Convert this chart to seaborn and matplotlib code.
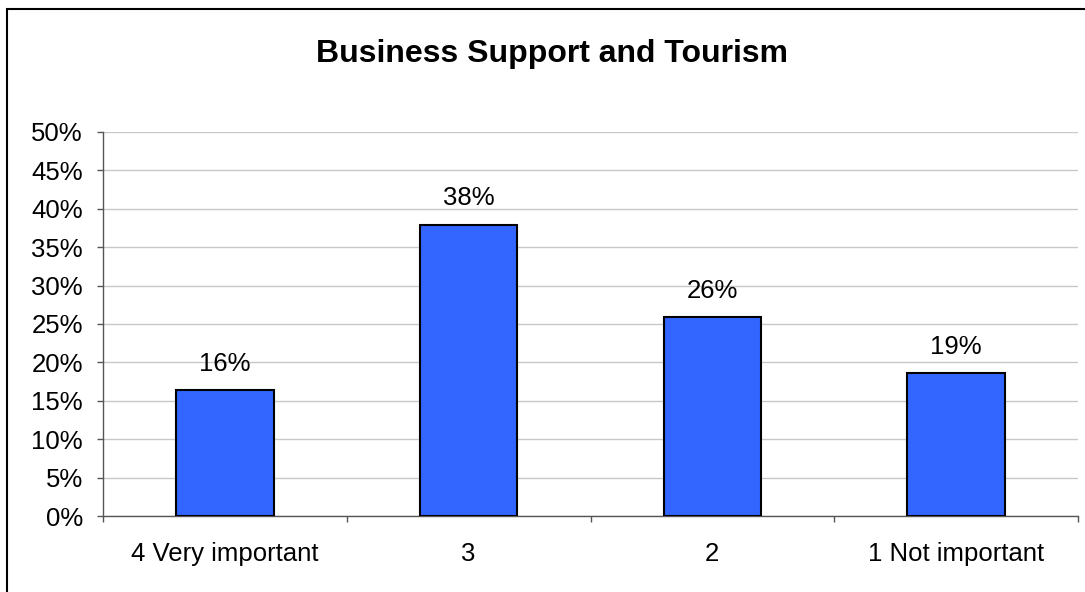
import matplotlib
matplotlib.use("Agg")
import matplotlib.pyplot as plt
from matplotlib.patches import Rectangle
from matplotlib.ticker import MultipleLocator, FuncFormatter
import seaborn as sns
import pandas as pd

# Survey responses: share of respondents per importance rating
categories = ["4 Very important", "3", "2", "1 Not important"]
shares = [16.4, 37.9, 25.9, 18.6]

df = pd.DataFrame({"rating": categories, "share": shares})

sns.set_theme(style="white")
plt.rcParams["font.family"] = ["Liberation Sans", "DejaVu Sans"]

FS = 18.5

fig = plt.figure(figsize=(10.85, 5.92), dpi=100)
ax = fig.add_axes([103 / 1085, 1 - 516 / 592, (1078 - 103) / 1085, (516 - 132) / 592])

sns.barplot(data=df, x="rating", y="share", color="#3366FF", saturation=1,
            width=0.4, edgecolor="black", linewidth=1.5, ax=ax, zorder=3)

ax.set_ylim(0, 50)
ax.set_xlim(-0.5, len(categories) - 0.5)
ax.yaxis.set_major_locator(MultipleLocator(5))
ax.yaxis.set_major_formatter(FuncFormatter(lambda v, _: f"{v:.0f}%"))
ax.set_xticks(range(len(categories)))
ax.set_xticklabels(categories)
ax.set_xlabel("")
ax.set_ylabel("")

# Gridlines at every 5%
ax.grid(axis="y", color="#c8c8c8", linewidth=1, zorder=0)
ax.grid(axis="x", visible=False)

for s in ["top", "right"]:
    ax.spines[s].set_visible(False)
for s in ["left", "bottom"]:
    ax.spines[s].set_color("#555555")
    ax.spines[s].set_linewidth(1)

ax.tick_params(axis="y", which="major", left=True, length=4.5, width=1, color="#555555",
               labelsize=FS, labelcolor="black", pad=10)
ax.tick_params(axis="x", which="major", bottom=False, length=0, labelsize=FS,
               labelcolor="black", pad=19)

# Category separators on the x axis
ax.set_xticks([i - 0.5 for i in range(len(categories) + 1)], minor=True)
ax.tick_params(axis="x", which="minor", bottom=True, length=4.5, width=1, color="#555555")

# Value labels above bars
for i, v in enumerate(shares):
    ax.annotate(f"{v:.0f}%", (i, v), xytext=(0, 14), textcoords="offset points",
                ha="center", va="baseline", fontsize=FS, color="black")

fig.text(552 / 1085, 1 - 54 / 592, "Business Support and Tourism", ha="center", va="center",
         fontsize=23, fontweight="bold", color="black")

# Outer chart frame (top and left edges visible)
fig.patches.append(Rectangle((7 / 1085, -0.1), 1.2, 1 - 9 / 592 + 0.1,
                             transform=fig.transFigure, fill=False,
                             edgecolor="black", linewidth=1.5))

fig.savefig("out.png", dpi=100, facecolor="white")
